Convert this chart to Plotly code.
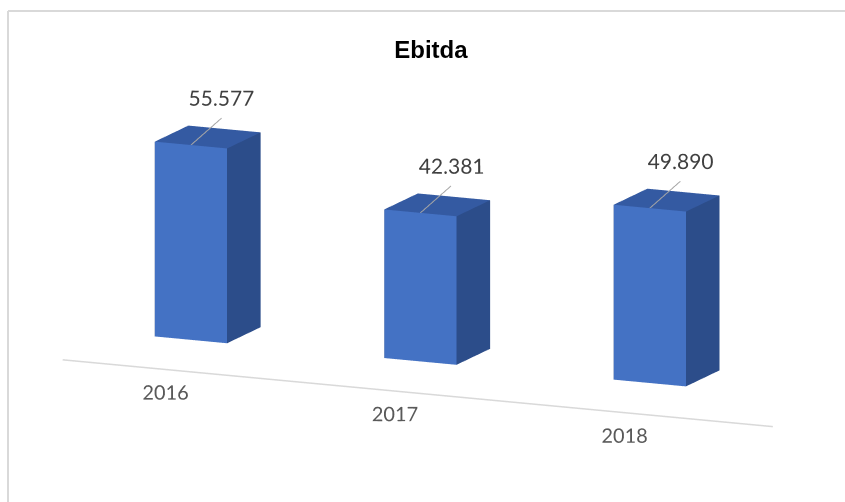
import plotly.graph_objects as go

categories = ["2016", "2017", "2018"]
values = [55577, 42381, 49890]

W = 845
H = 502
bar_w = 0.315
bar_d = 0.33
front_y = -0.55
label_y = -0.25
label_z = -11.5

FRONT = "rgb(68,114,196)"
TOP = "rgb(52,90,162)"
SIDE = "rgb(44,77,138)"

fig = go.Figure()

for i, v in enumerate(values):
    z = v / 1000.0
    x0, x1 = i - bar_w / 2, i + bar_w / 2
    y0, y1 = 0.0, bar_d
    vx = [x0, x1, x1, x0, x0, x1, x1, x0]
    vy = [y0, y0, y1, y1, y0, y0, y1, y1]
    vz = [0, 0, 0, 0, z, z, z, z]
    faces = [
        (0, 1, 5, FRONT), (0, 5, 4, FRONT),      # front
        (1, 2, 6, SIDE), (1, 6, 5, SIDE),        # right
        (4, 5, 6, TOP), (4, 6, 7, TOP),          # top
        (3, 2, 6, SIDE), (3, 6, 7, SIDE),        # back
        (0, 3, 7, SIDE), (0, 7, 4, SIDE),        # left
        (0, 1, 2, SIDE), (0, 2, 3, SIDE),        # bottom
    ]
    fig.add_trace(go.Mesh3d(
        x=vx, y=vy, z=vz,
        i=[f[0] for f in faces], j=[f[1] for f in faces], k=[f[2] for f in faces],
        facecolor=[f[3] for f in faces],
        flatshading=True,
        lighting=dict(ambient=1, diffuse=0, specular=0, fresnel=0, roughness=1),
        hoverinfo="skip", showscale=False,
    ))
    # leader line and data label
    lz = z + 3.5
    fig.add_trace(go.Scatter3d(
        x=[i, i], y=[0, 0.3], z=[z, lz], mode="lines",
        line=dict(color="rgb(166,166,166)", width=2), hoverinfo="skip", showlegend=False,
    ))
    fig.add_trace(go.Scatter3d(
        x=[i], y=[0.3], z=[lz + 5.7], mode="text",
        text=[f"{v:,}".replace(",", ".")], textposition="middle center",
        textfont=dict(family="Lato", size=21, color="#404040"),
        hoverinfo="skip", showlegend=False,
    ))

# category axis line at floor front edge
fig.add_trace(go.Scatter3d(
    x=[-0.315, 2.78], y=[front_y, front_y], z=[0, 0], mode="lines",
    line=dict(color="rgb(217,217,217)", width=3), hoverinfo="skip", showlegend=False,
))
fig.add_trace(go.Scatter3d(
    x=list(range(len(categories))), y=[label_y] * 3, z=[label_z] * 3, mode="text",
    text=categories, textposition="middle center",
    textfont=dict(family="Lato", size=20, color="#595959"),
    hoverinfo="skip", showlegend=False,
))

ax_common = dict(visible=False, showbackground=False, showgrid=False, zeroline=False,
                 showspikes=False)
fig.update_layout(
    width=W, height=H,
    margin=dict(l=0, r=0, t=0, b=0),
    paper_bgcolor="white",
    showlegend=False,
    title=dict(text="<b>Ebitda</b>", x=0.51, xanchor="center", y=1 - 50 / H,
               yanchor="middle", yref="container",
               font=dict(family="Liberation Sans", size=24, color="black")),
    scene=dict(
        domain=dict(x=[0, 1], y=[0, 1]),
        xaxis=dict(range=[-0.7, 2.85], **ax_common),
        yaxis=dict(range=[-0.8, 0.8], **ax_common),
        zaxis=dict(range=[-20, 70], **ax_common),
        aspectmode="manual",
        aspectratio=dict(x=3.55, y=1.6, z=1.286),
        camera=dict(eye=dict(x=0.738, y=-1.812, z=0.524),
                    center=dict(x=-0.056, y=-0.022, z=0.099),
                    up=dict(x=0, y=0, z=1), projection=dict(type="orthographic")),
        bgcolor="white",
    ),
    shapes=[
        dict(type="line", xref="paper", yref="paper", x0=8 / W, x1=1.01,
             y0=1 - 11 / H, y1=1 - 11 / H, line=dict(color="rgb(217,217,217)", width=2)),
        dict(type="line", xref="paper", yref="paper", x0=8 / W, x1=8 / W,
             y0=-0.01, y1=1 - 11 / H, line=dict(color="rgb(217,217,217)", width=2)),
    ],
)

fig.write_html("out.html")
